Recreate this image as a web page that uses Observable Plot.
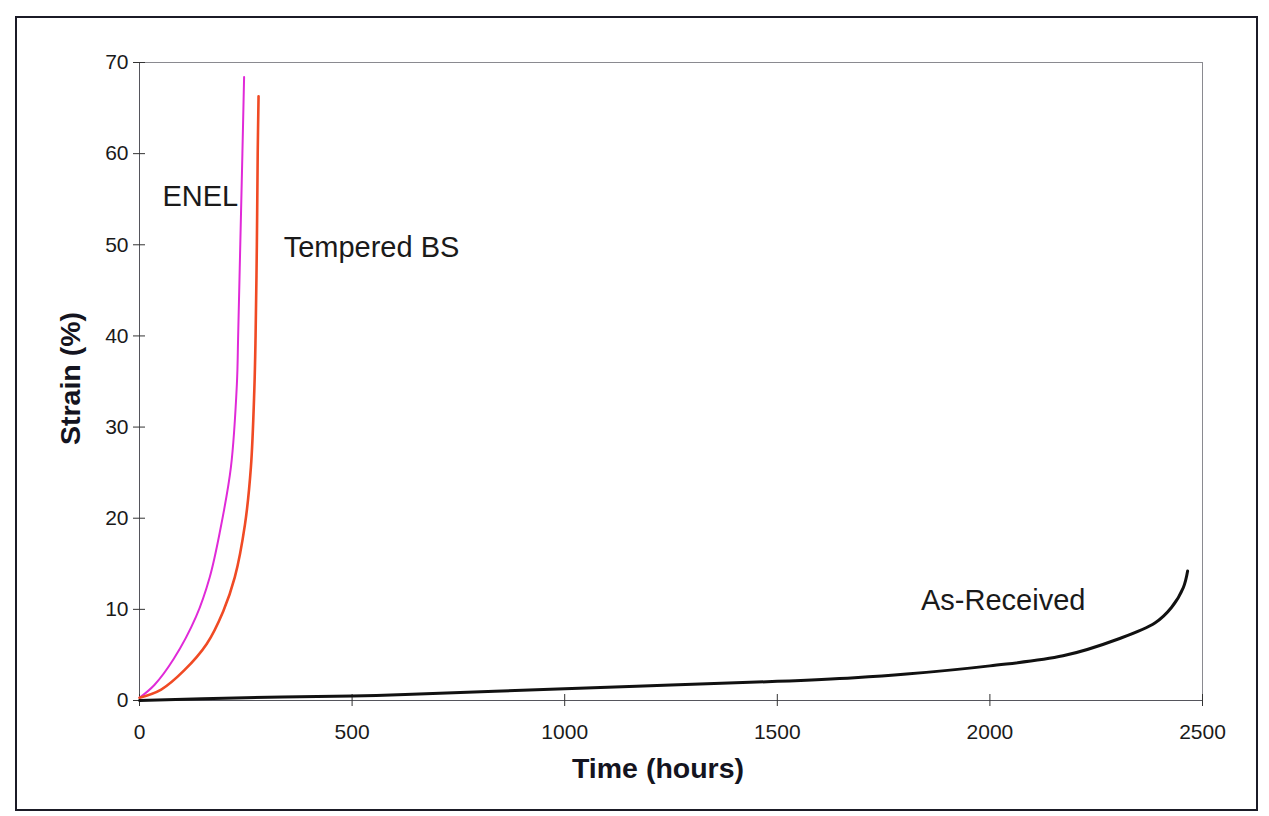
<!DOCTYPE html>
<html>
<head>
<meta charset="utf-8">
<script src="https://cdn.jsdelivr.net/npm/d3@7"></script>
<script src="https://cdn.jsdelivr.net/npm/@observablehq/plot@0.6"></script>
<style>
html,body{margin:0;padding:0;background:#fff;}
#wrap{position:relative;width:1269px;height:816px;overflow:hidden;background:#fff;}
#wrap svg{position:absolute;left:0;top:0;}
#frame{position:absolute;left:15px;top:16px;width:1239px;height:791px;border:2px solid #1b1b26;pointer-events:none;}
</style>
</head>
<body>
<div id="wrap"><div id="frame"></div></div>
<script>
// ---- data ----
const enelTime    = [0, 35, 81, 133, 165, 189, 215, 229, 232, 237, 242, 246];
const enelStrain  = [0.3, 1.7, 4.6, 9.2, 13.5, 18.5, 25.6, 34.7, 40, 50, 60, 68.4];

const temperedTime   = [0, 51, 105, 158, 197, 224, 248, 262, 270, 273, 276, 278, 280];
const temperedStrain = [0.3, 1.2, 3.3, 6.2, 9.8, 13.5, 19.3, 25.6, 34, 40, 50, 60, 66.3];

const asRecTime   = [0, 250, 500, 625, 1000, 1250, 1500, 1682, 1804, 2000, 2172, 2302, 2388, 2427, 2455, 2465];
const asRecStrain = [0, 0.3, 0.5, 0.65, 1.3, 1.7, 2.1, 2.5, 2.9, 3.8, 4.9, 6.75, 8.5, 10.2, 12.4, 14.2];

const xTicks = [0, 500, 1000, 1500, 2000, 2500];
const yTicks = [0, 10, 20, 30, 40, 50, 60, 70];

const seriesNames = ["ENEL", "Tempered BS", "As-Received"];
// label anchor points (data coordinates)
const labelTime   = [54, 339, 1838];
const labelStrain = [55.3, 49.7, 11.0];

// ---- build tables ----
const toRows = (ts, ss) => ts.map((t, i) => ({t, s: ss[i]}));
const enel = toRows(enelTime, enelStrain);
const tempered = toRows(temperedTime, temperedStrain);
const asRec = toRows(asRecTime, asRecStrain);
const labels = seriesNames.map((name, i) => ({name, t: labelTime[i], s: labelStrain[i]}));

const font = "'Liberation Sans', Arial, Helvetica, sans-serif";
const fmt = d3.format("d");

const chart = Plot.plot({
  width: 1269,
  height: 816,
  marginLeft: 139,
  marginRight: 67,
  marginTop: 62,
  marginBottom: 116,
  style: {fontFamily: font, background: "transparent", color: "#1a1a1a", overflow: "visible"},
  x: {domain: [0, 2500]},
  y: {domain: [0, 70]},
  marks: [
    Plot.frame({stroke: "#8a8a90", strokeWidth: 1}),
    Plot.ruleY([0], {stroke: "#55555c", strokeWidth: 1}),
    Plot.ruleX([0], {stroke: "#55555c", strokeWidth: 1}),
    // crossing tick marks
    Plot.axisX({ticks: xTicks, tickSize: 12, dy: -6, tickFormat: () => "", label: null, stroke: "#333"}),
    Plot.axisY({ticks: yTicks, tickSize: 12, dx: 6, tickFormat: () => "", label: null, stroke: "#333"}),
    // tick labels
    Plot.axisX({ticks: xTicks, tickSize: 0, tickPadding: 24, fontSize: 21, tickFormat: fmt, label: null, fill: "#1a1a1a"}),
    Plot.axisY({ticks: yTicks, tickSize: 0, tickPadding: 11, fontSize: 21, tickFormat: fmt, label: null, fill: "#1a1a1a"}),
    // curves
    Plot.line(enel, {x: "t", y: "s", stroke: "#e02ad8", strokeWidth: 2, curve: "catmull-rom"}),
    Plot.line(tempered, {x: "t", y: "s", stroke: "#f04a24", strokeWidth: 2.6, curve: "catmull-rom"}),
    Plot.line(asRec, {x: "t", y: "s", stroke: "#111111", strokeWidth: 3, curve: "catmull-rom"}),
    // series labels
    Plot.text(labels, {x: "t", y: "s", text: "name", textAnchor: "start", fontSize: 29, fill: "#1a1a1a"}),
    // axis titles
    Plot.text(["Time (hours)"], {frameAnchor: "bottom", dx: -13, dy: 77, textAnchor: "middle", lineAnchor: "bottom", text: d => d,
      fontSize: 28.5, fontWeight: "bold", fill: "#141420"}),
    Plot.text(["Strain (%)"], {frameAnchor: "left", dx: -60, dy: -3, rotate: -90, textAnchor: "middle", lineAnchor: "bottom", text: d => d,
      fontSize: 28.5, fontWeight: "bold", fill: "#141420"})
  ]
});
document.getElementById("wrap").insertBefore(chart, document.getElementById("frame"));
</script>
</body>
</html>
